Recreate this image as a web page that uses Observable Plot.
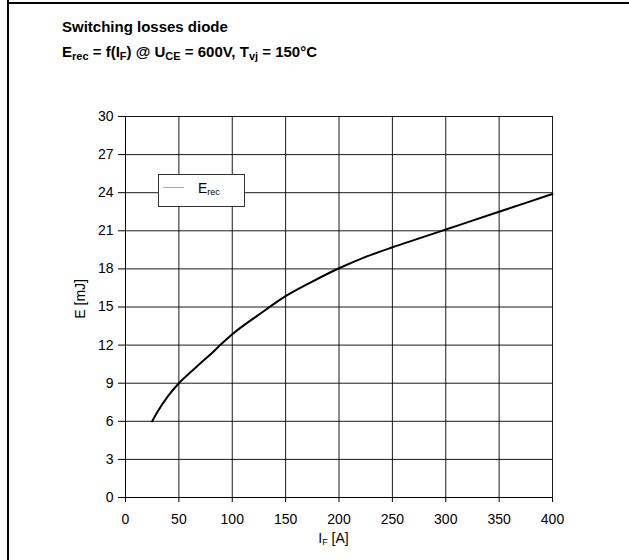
<!DOCTYPE html>
<html>
<head>
<meta charset="utf-8">
<script src="https://cdn.jsdelivr.net/npm/d3@7"></script>
<script src="https://cdn.jsdelivr.net/npm/@observablehq/plot@0.6"></script>
<style>
  html, body { margin: 0; padding: 0; background: #fff; }
  #wrap { position: relative; width: 629px; height: 560px; overflow: hidden; font-family: "Liberation Sans", Arial, sans-serif; }
  .bl { position: absolute; background: #000; }
  .title { position: absolute; left: 62px; font-weight: bold; font-size: 15px; line-height: 15px; color: #000; white-space: nowrap; }
  .title sub { font-size: 11px; vertical-align: -3px; line-height: 0; }
  #legend { position: absolute; left: 158px; top: 174px; width: 85px; height: 31px; border: 1px solid #333; background: #fff; font-size: 14px; }
  #legend .sample { position: absolute; left: 4px; top: 12px; width: 21px; height: 0; border-top: 1.5px solid #aaa; }
  #legend .lab { position: absolute; left: 39px; top: 6px; line-height: 14px; white-space: nowrap; }
  #legend .lab sub { font-size: 9px; vertical-align: -2px; line-height: 0; }
  #chart { position: absolute; left: 0; top: 0; }
</style>
</head>
<body>
<div id="wrap">
  <div id="chart"></div>
  <div class="bl" style="left:7px; top:0; width:2px; height:560px;"></div>
  <div class="bl" style="left:7px; top:2px; width:622px; height:2px;"></div>
  <div class="title" style="top:19px;">Switching losses diode</div>
  <div class="title" style="top:44px;">E<sub>rec</sub> = f(I<sub>F</sub>) @ U<sub>CE</sub> = 600V, T<sub>vj</sub> = 150°C</div>
  <div id="legend"><div class="sample"></div><div class="lab">E<sub>rec</sub></div></div>
</div>
<script>
// Data: E_rec [mJ] vs I_F [A]
const currentA = [25, 30, 40, 50, 60, 70, 80, 90, 100, 125, 150, 175, 200, 225, 250, 275, 300, 325, 350, 375, 400];
const erecMJ   = [6.0, 6.75, 8.0, 9.0, 9.8, 10.55, 11.3, 12.1, 12.85, 14.4, 15.85, 17.0, 18.05, 18.95, 19.7, 20.4, 21.1, 21.8, 22.5, 23.2, 23.9];
const xTicks = [0, 50, 100, 150, 200, 250, 300, 350, 400];
const yTicks = [0, 3, 6, 9, 12, 15, 18, 21, 24, 27, 30];

const rows = currentA.map((a, i) => ({ a, e: erecMJ[i] }));

const plot = Plot.plot({
  width: 629,
  height: 560,
  marginLeft: 125,
  marginRight: 77,
  marginTop: 116,
  marginBottom: 63,
  style: { fontFamily: '"Liberation Sans", Arial, sans-serif', fontSize: "14px", color: "#000", background: "transparent" },
  x: { domain: [0, 400], ticks: xTicks, tickSize: 5, tickPadding: 12, label: null, tickFormat: d => String(d) },
  y: { domain: [0, 30], ticks: yTicks, tickSize: 7, tickPadding: 5, label: null, tickFormat: d => String(d) },
  marks: [
    Plot.gridX(xTicks, { stroke: "#000", strokeOpacity: 0.9, strokeWidth: 1 }),
    Plot.gridY(yTicks, { stroke: "#000", strokeOpacity: 0.9, strokeWidth: 1 }),
    Plot.ruleX([0], { stroke: "#000" }),
    Plot.ruleY([0], { stroke: "#000" }),
    Plot.line(rows, { x: "a", y: "e", stroke: "#000", strokeWidth: 2, curve: "monotone-x" })
  ]
});
document.getElementById("chart").appendChild(plot);

const svg = d3.select(plot);
const xs = plot.scale("x"), ys = plot.scale("y");
const font = '"Liberation Sans", Arial, sans-serif';

// x axis title: I_F [A]
const xl = svg.append("text")
  .attr("x", xs.apply(200) - 5)
  .attr("y", 543)
  .attr("text-anchor", "middle")
  .attr("font-family", font).attr("font-size", 14).attr("fill", "#000");
xl.append("tspan").text("I");
xl.append("tspan").attr("font-size", 9).attr("dy", 2).text("F");
xl.append("tspan").attr("dy", -2).text(" [A]");

// y axis title: E [mJ]
svg.append("text")
  .attr("transform", `translate(85,${ys.apply(15.6)}) rotate(-90)`)
  .attr("text-anchor", "middle")
  .attr("font-family", font).attr("font-size", 14).attr("fill", "#000")
  .text("E [mJ]");
</script>
</body>
</html>
